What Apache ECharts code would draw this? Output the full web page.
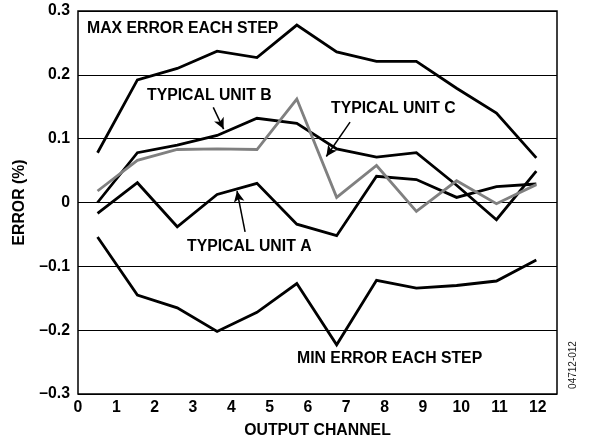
<!DOCTYPE html>
<html>
<head>
<meta charset="utf-8">
<script src="https://cdn.jsdelivr.net/npm/echarts@6/dist/echarts.min.js"></script>
<style>
  html, body { margin: 0; padding: 0; background: #fff; }
  #chart { width: 593px; height: 444px; }
</style>
</head>
<body>
<div id="chart"></div>
<script>
// Channel positions of each plotted step
var channelX = [0.51, 1.55, 2.59, 3.63, 4.67, 5.71, 6.75, 7.79, 8.83, 9.88, 10.92, 11.96];
// Error (%) values
var maxError = [0.078, 0.192, 0.210, 0.237, 0.227, 0.278, 0.236, 0.221, 0.221, 0.179, 0.140, 0.070];
var unitB    = [0.000, 0.078, 0.090, 0.105, 0.132, 0.124, 0.084, 0.071, 0.078, 0.027, -0.027, 0.049];
var unitA    = [-0.017, 0.031, -0.038, 0.0125, 0.030, -0.034, -0.052, 0.041, 0.036, 0.008, 0.025, 0.029];
var unitC    = [0.018, 0.066, 0.083, 0.084, 0.083, 0.162, 0.008, 0.058, -0.014, 0.034, -0.002, 0.028];
var minError = [-0.054, -0.145, -0.165, -0.202, -0.172, -0.127, -0.223, -0.122, -0.134, -0.130, -0.123, -0.090];
// Axis tick labels
var yTickLabels = {'0.3': '0.3', '0.2': '0.2', '0.1': '0.1', '0': '0', '-0.1': '\u20130.1', '-0.2': '\u20130.2', '-0.3': '\u20130.3'};
// Annotation texts
var labelMax = 'MAX ERROR EACH STEP';
var labelMin = 'MIN ERROR EACH STEP';
var labelA = 'TYPICAL UNIT A';
var labelB = 'TYPICAL UNIT B';
var labelC = 'TYPICAL UNIT C';
// Arrow endpoints in data coordinates [channel, error]
var arrowB = [[3.53, 0.149], [3.80, 0.115]];
var arrowA = [[4.36, -0.046], [4.15, 0.018]];
var arrowC = [[7.10, 0.126], [6.48, 0.072]];

function pairs(ys) { return ys.map(function (v, i) { return [channelX[i], v]; }); }

var FONT = 'Liberation Sans, Arial, Helvetica, sans-serif';
var FS = 15.8;
var chart = echarts.init(document.getElementById('chart'), null, {renderer: 'canvas'});

function arrowLine(a) {
  return [{coord: a[0]}, {coord: a[1]}];
}

function lineSeries(name, data, color, extra) {
  var s = {
    name: name, type: 'line', data: pairs(data), symbol: 'none', silent: true,
    lineStyle: {color: color, width: 2.8, join: 'miter'}
  };
  if (extra) for (var k in extra) s[k] = extra[k];
  return s;
}

var option = {
  animation: false,
  backgroundColor: '#fff',
  grid: {left: 78, right: 36, top: 11, bottom: 49, show: true, borderColor: '#000', borderWidth: 1.5, backgroundColor: 'transparent'},
  xAxis: {
    type: 'value', min: 0, max: 12.5, interval: 1,
    name: 'OUTPUT CHANNEL', nameLocation: 'middle', nameGap: 29,
    nameTextStyle: {fontFamily: FONT, fontWeight: 'bold', fontSize: FS, color: '#000'},
    axisLine: {show: false}, axisTick: {show: false}, splitLine: {show: false},
    axisLabel: {
      fontFamily: FONT, fontWeight: 'bold', fontSize: FS, color: '#000', margin: 6,
      showMaxLabel: false,
      formatter: function (v) { return (Math.abs(v - Math.round(v)) < 1e-6) ? String(Math.round(v)) : ''; }
    }
  },
  yAxis: {
    type: 'value', min: -0.3, max: 0.3, interval: 0.1,
    name: 'ERROR (%)', nameLocation: 'middle', nameGap: 50, nameRotate: 90,
    nameTextStyle: {fontFamily: FONT, fontWeight: 'bold', fontSize: FS, color: '#000'},
    axisLine: {show: false}, axisTick: {show: false},
    splitLine: {show: true, lineStyle: {color: '#000', width: 1}},
    axisLabel: {
      fontFamily: FONT, fontWeight: 'bold', fontSize: FS, color: '#000', margin: 8,
      formatter: function (v) { var k = String(Math.round(v * 10) / 10); return yTickLabels[k] !== undefined ? yTickLabels[k] : k; }
    }
  },
  series: [
    lineSeries('MAX', maxError, '#000'),
    lineSeries('MIN', minError, '#000'),
    lineSeries('Unit A', unitA, '#000', {
      markLine: {
        silent: true, symbol: ['none', 'arrow'], symbolSize: [8, 11],
        lineStyle: {color: '#000', width: 1.5, type: 'solid'}, label: {show: false},
        data: [arrowLine(arrowA), arrowLine(arrowB), arrowLine(arrowC)]
      }
    }),
    lineSeries('Unit B', unitB, '#000'),
    lineSeries('Unit C', unitC, '#808080')
  ],
  graphic: [
    {type: 'text', left: 87, top: 21, style: {text: labelMax, font: 'bold ' + FS + 'px ' + FONT, fill: '#000'}},
    {type: 'text', left: 147, top: 88, style: {text: labelB, font: 'bold ' + FS + 'px ' + FONT, fill: '#000'}},
    {type: 'text', left: 331, top: 101, style: {text: labelC, font: 'bold ' + FS + 'px ' + FONT, fill: '#000'}},
    {type: 'text', left: 187, top: 239, style: {text: labelA, font: 'bold ' + FS + 'px ' + FONT, fill: '#000'}},
    {type: 'text', left: 297, top: 351, style: {text: labelMin, font: 'bold ' + FS + 'px ' + FONT, fill: '#000'}},
    {type: 'text', x: 573, y: 365, rotation: Math.PI / 2, style: {text: '04712-012', font: '10px ' + FONT, fill: '#222', align: 'center', verticalAlign: 'middle'}}
  ]
};
chart.setOption(option);
</script>
</body>
</html>
